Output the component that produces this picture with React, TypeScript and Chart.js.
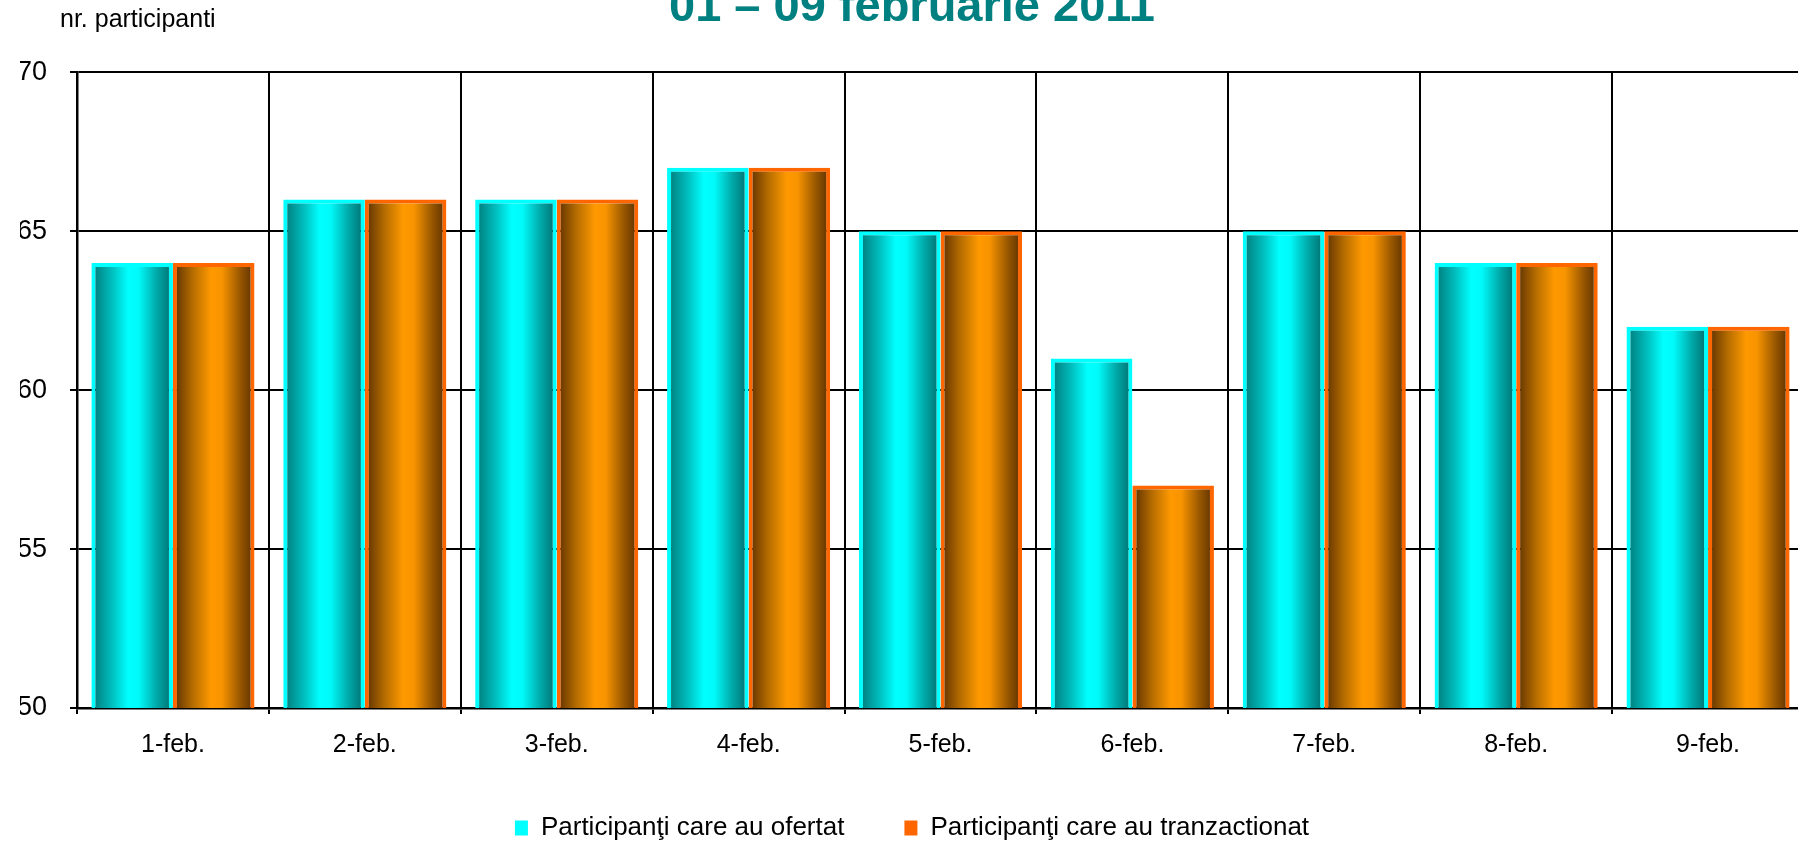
import React, { useEffect, useRef } from "react";
import { Chart, registerables } from "chart.js";

Chart.register(...registerables);

const categories = ["1-feb.", "2-feb.", "3-feb.", "4-feb.", "5-feb.", "6-feb.", "7-feb.", "8-feb.", "9-feb."];
const ofertat = [64, 66, 66, 67, 65, 61, 65, 64, 62];
const tranzactionat = [64, 66, 66, 67, 65, 57, 65, 64, 62];
const seriesLabels = ["Participanţi care au ofertat", "Participanţi care au tranzactionat"];
const yTicks = [50, 55, 60, 65, 70];
const titleText = "01 – 09 februarie 2011";
const yAxisLabel = "nr. participanti";

const FONT = '"Liberation Sans", Arial, sans-serif';
const CAT_PCT = 0.85;
const CANVAS_W = 1812;
const CANVAS_H = 871;

const tealStops: [number, string][] = [
  [0, "#007676"],
  [0.25, "#00BDBD"],
  [0.45, "#00FFFF"],
  [0.58, "#00FAFA"],
  [0.8, "#00A9A9"],
  [1, "#006C6C"],
];
const orangeStops: [number, string][] = [
  [0, "#5A2E00"],
  [0.25, "#B86E00"],
  [0.47, "#FF9900"],
  [0.6, "#F89400"],
  [0.82, "#9A5800"],
  [1, "#5A2E00"],
];

function makeGradient(stops: [number, string][], fallback: string) {
  return (ctx: any) => {
    const chart = ctx.chart;
    if (ctx.type !== "data" || !chart.chartArea || !chart.scales || !chart.scales.x) return fallback;
    const xs = chart.scales.x;
    const center = xs.getPixelForValue(ctx.dataIndex);
    const catW = xs.width / categories.length;
    const groupW = catW * CAT_PCT;
    const barW = groupW / 2;
    const left = center - groupW / 2 + ctx.datasetIndex * barW;
    const g = chart.ctx.createLinearGradient(left, 0, left + barW, 0);
    stops.forEach(([o, c]) => g.addColorStop(o, c));
    return g;
  };
}

const legendColors = ["#00FFFF", "#FF6600"];

const axisLabelPlugin = {
  id: "axisLabelTop",
  afterDraw(chart: any) {
    const { ctx, chartArea } = chart;
    if (!chartArea) return;
    ctx.save();
    ctx.font = `25px ${FONT}`;
    ctx.fillStyle = "#000000";
    ctx.textBaseline = "alphabetic";
    ctx.textAlign = "left";
    ctx.fillText(yAxisLabel, chartArea.left - 17, chartArea.top - 45);
    ctx.restore();
  },
};

export default function App() {
  const canvasRef = useRef<HTMLCanvasElement | null>(null);

  useEffect(() => {
    if (!canvasRef.current) return;
    Chart.defaults.font.family = FONT;
    const chart = new Chart(canvasRef.current, {
      type: "bar",
      data: {
        labels: categories,
        datasets: [
          {
            label: seriesLabels[0],
            data: ofertat,
            backgroundColor: makeGradient(tealStops, "#00FFFF"),
            borderColor: "#00FFFF",
            borderWidth: 4,
            borderSkipped: false,
            categoryPercentage: CAT_PCT,
            barPercentage: 1,
          },
          {
            label: seriesLabels[1],
            data: tranzactionat,
            backgroundColor: makeGradient(orangeStops, "#FF9900"),
            borderColor: "#FF6600",
            borderWidth: 4,
            borderSkipped: false,
            categoryPercentage: CAT_PCT,
            barPercentage: 1,
          },
        ],
      },
      options: {
        responsive: false,
        animation: false,
        devicePixelRatio: 1,
        layout: { padding: { left: 20, right: 8, top: 0, bottom: 0 } },
        plugins: {
          title: {
            display: true,
            text: titleText,
            color: "#008080",
            font: { size: 47, weight: "bold", family: FONT },
            padding: { top: 0, bottom: 36 },
          },
          legend: {
            position: "bottom",
            labels: {
              font: { size: 26, family: FONT },
              color: "#000000",
              boxWidth: 13,
              boxHeight: 15,
              padding: 60,
              generateLabels: (c: any) =>
                c.data.datasets.map((ds: any, i: number) => ({
                  text: ds.label,
                  fillStyle: legendColors[i],
                  strokeStyle: legendColors[i],
                  lineWidth: 0,
                  hidden: false,
                  datasetIndex: i,
                  fontColor: "#000000",
                })),
            },
          },
          tooltip: { enabled: false },
        },
        scales: {
          x: {
            grid: {
              display: true,
              color: "#000000",
              lineWidth: 2,
              tickLength: 6,
              offset: true,
            },
            border: { display: true, color: "#000000", width: 2.5 },
            ticks: {
              color: "#000000",
              font: { size: 25, family: FONT },
              padding: 16,
              maxRotation: 0,
            },
            afterFit: (scale: any) => {
              scale.height = 47;
            },
          },
          y: {
            min: yTicks[0],
            max: yTicks[yTicks.length - 1],
            grid: {
              color: "#000000",
              lineWidth: 2,
              tickLength: 7,
            },
            border: { display: true, color: "#000000", width: 2.5 },
            ticks: {
              stepSize: yTicks[1] - yTicks[0],
              color: "#000000",
              font: { size: 27, family: FONT },
              padding: 23,
            },
            afterFit: (scale: any) => {
              scale.width = 57;
            },
          },
        },
      },
      plugins: [axisLabelPlugin],
    } as any);
    return () => chart.destroy();
  }, []);

  return (
    <div
      style={{
        position: "fixed",
        left: 0,
        top: 0,
        width: 1798,
        height: 841,
        overflow: "hidden",
        background: "#ffffff",
      }}
    >
      <canvas
        ref={canvasRef}
        width={CANVAS_W}
        height={CANVAS_H}
        style={{ position: "absolute", left: 0, top: -20, width: CANVAS_W, height: CANVAS_H }}
      />
    </div>
  );
}
